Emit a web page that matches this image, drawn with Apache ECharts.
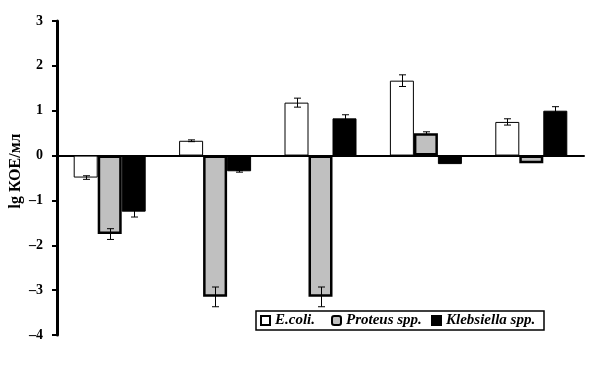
<!DOCTYPE html>
<html><head><meta charset="utf-8">
<script src="https://cdn.jsdelivr.net/npm/echarts@6/dist/echarts.min.js"></script>
<style>html,body{margin:0;padding:0;background:#fff}#c{width:595px;height:380px}</style>
</head><body><div id="c"></div>
<script>
const categories = ['1', '2', '3', '4', '5'];
const seriesNames = ['E.coli.', 'Proteus spp.', 'Klebsiella spp.'];
const ecoli = [-0.49, 0.33, 1.18, 1.67, 0.75];
const proteus = [-1.75, -3.15, -3.15, 0.50, -0.17];
const klebsiella = [-1.25, -0.35, 0.83, -0.19, 1.00];
const ecoliErr = [0.04, 0.02, 0.10, 0.13, 0.07];
const proteusErr = [0.12, 0.22, 0.22, 0.03, 0.0];
const klebsiellaErr = [0.12, 0.02, 0.08, 0.0, 0.09];
const yTicks = [-4, -3, -2, -1, 0, 1, 2, 3];

const chart = echarts.init(document.getElementById('c'), null, {renderer: 'canvas'});
const barW = 24;
const offsets = [-barW, 0, barW];
const vals = [ecoli, proteus, klebsiella];
const errs = [ecoliErr, proteusErr, klebsiellaErr];
const fillCols = ['#ffffff', '#c0c0c0', '#000000'];
const borderW = [1, 2.5, 1];
const legendTextW = [50, 79, 92];

function errSeries(k) {
  const data = categories.map((c, i) => [i, vals[k][i], errs[k][i]]);
  return {
    type: 'custom',
    z: 10,
    silent: true,
    renderItem: function (params, api) {
      const i = api.value(0), v = api.value(1), e = api.value(2);
      if (!e) return null;
      const p = api.coord([i, v]);
      const x = Math.round(p[0] + offsets[k]) + 0.5;
      const top = api.coord([i, v + e])[1];
      const bot = api.coord([i, v - e])[1];
      const style = {stroke: '#000', lineWidth: 1};
      return {type: 'group', children: [
        {type: 'line', shape: {x1: x, y1: top, x2: x, y2: bot}, style: style},
        {type: 'line', shape: {x1: x - 3.5, y1: top, x2: x + 3.5, y2: top}, style: style},
        {type: 'line', shape: {x1: x - 3.5, y1: bot, x2: x + 3.5, y2: bot}, style: style}
      ]};
    },
    data: data
  };
}

const bars = seriesNames.map((n, k) => ({
  name: n,
  type: 'bar',
  data: vals[k],
  barWidth: barW,
  barGap: '0%',
  itemStyle: {color: fillCols[k], borderColor: '#000', borderWidth: borderW[k]},
  z: 2
}));

chart.setOption({
  animation: false,
  grid: {left: 57, right: 11, top: 21, bottom: 45, containLabel: false, outerBoundsMode: 'none'},
  legend: {
    data: seriesNames.map((n, k) => ({
      name: n,
      icon: k === 1 ? 'roundRect' : 'rect',
      textStyle: {width: legendTextW[k]}
    })),
    left: 256, top: 311,
    itemWidth: 9, itemHeight: 9, itemGap: 6,
    padding: [2, 6, 2, 4],
    borderColor: '#000', borderWidth: 1.5,
    textStyle: {fontFamily: 'Liberation Serif', fontWeight: 'bold', fontStyle: 'italic', fontSize: 15, lineHeight: 14, color: '#000'}
  },
  xAxis: {
    type: 'category',
    data: categories,
    position: 'bottom',
    axisLine: {onZero: true, lineStyle: {color: '#000', width: 2}},
    axisTick: {show: false},
    axisLabel: {show: false},
    splitLine: {show: false}
  },
  yAxis: {
    type: 'value',
    min: yTicks[0], max: yTicks[yTicks.length - 1], interval: 1,
    name: 'lg КОЕ/мл',
    nameLocation: 'middle',
    nameGap: 33,
    nameMoveOverlap: false,
    nameRotate: 90,
    nameTextStyle: {fontFamily: 'Liberation Serif', fontWeight: 'bold', fontSize: 16, color: '#000', padding: [0, 0, 0, 14]},
    axisLine: {show: true, lineStyle: {color: '#000', width: 3}},
    axisTick: {show: true, inside: false, length: 5, lineStyle: {color: '#000', width: 2}},
    axisLabel: {fontFamily: 'Liberation Serif', fontWeight: 'bold', fontSize: 14, color: '#000', margin: 14,
      formatter: v => (v < 0 ? '\u2013' + Math.abs(v) : String(v))},
    splitLine: {show: false}
  },
  series: bars.concat([errSeries(0), errSeries(1), errSeries(2)])
});
</script></body></html>
